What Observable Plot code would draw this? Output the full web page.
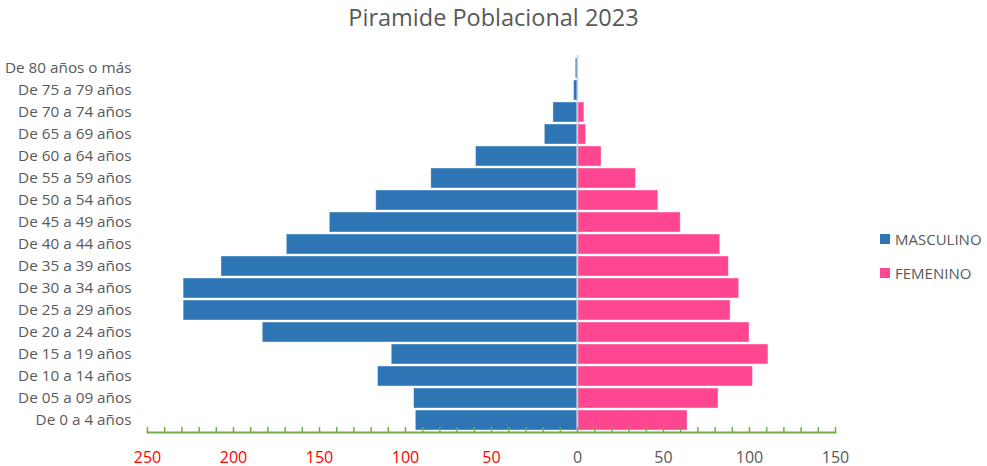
<!DOCTYPE html>
<html>
<head>
<meta charset="utf-8">
<script src="https://cdn.jsdelivr.net/npm/d3@7"></script>
<script src="https://cdn.jsdelivr.net/npm/@observablehq/plot@0.6"></script>
<style>
  html, body { margin: 0; padding: 0; background: #fff; }
  #wrap { position: relative; width: 987px; height: 466px; font-family: "Open Sans", sans-serif; color: #595959; }
  #title { height: 36px; line-height: 34px; text-align: center; font-size: 23.5px; color: #595959; }
  .leg { position: absolute; left: 880px; font-size: 15px; color: #595959; display: flex; align-items: center; }
  .leg span.sw { display: inline-block; width: 10px; height: 10px; margin-right: 5px; }
</style>
</head>
<body>
<div id="wrap">
  <div id="title">Piramide Poblacional 2023</div>
  <div id="chart"></div>
  <div class="leg" style="top:229px"><span class="sw" style="background:#2E75B6"></span>MASCULINO</div>
  <div class="leg" style="top:263px"><span class="sw" style="background:#FF4791"></span>FEMENINO</div>
</div>
<script>
const categorias = ["De 0 a 4 años","De 05 a 09 años","De 10 a 14 años","De 15 a 19 años","De 20 a 24 años","De 25 a 29 años","De 30 a 34 años","De 35 a 39 años","De 40 a 44 años","De 45 a 49 años","De 50 a 54 años","De 55 a 59 años","De 60 a 64 años","De 65 a 69 años","De 70 a 74 años","De 75 a 79 años","De 80 años o más"];
const masculino = [94, 95, 116, 108, 183, 229, 229, 207, 169, 144, 117, 85, 59, 19, 14, 2, 1];
const femenino  = [64, 82, 102, 111, 100, 89, 94, 88, 83, 60, 47, 34, 14, 5, 4, 0, 0];
const etiquetasX = [-250, -200, -150, -100, -50, 0, 50, 100, 150];
const marcasX = d3.range(-250, 151, 10);

const data = categorias.map((c, i) => ({cat: c, m: masculino[i], f: femenino[i]}));

const W = 987, H = 430, mt = 19, mb = 34;
const frameH = H - mt - mb;

const chart = Plot.plot({
  width: W, height: H,
  marginLeft: 147, marginRight: 152, marginTop: mt, marginBottom: mb,
  style: {fontFamily: "Open Sans, sans-serif", fontSize: "15px", color: "#595959", background: "white", overflow: "visible"},
  x: {domain: [-250, 150], axis: null},
  y: {domain: categorias.slice().reverse(), paddingInner: 0.1, paddingOuter: 0.05, label: null},
  marks: [
    Plot.barX(data, {x1: 0, x2: d => -d.m, y: "cat", fill: "#2E75B6", stroke: "#ffffff", strokeOpacity: 0.5, strokeWidth: 0.8}),
    Plot.barX(data, {x1: 0, x2: "f", y: "cat", fill: "#FF4791", stroke: "#ffffff", strokeOpacity: 0.5, strokeWidth: 0.8}),
    Plot.ruleX([0], {stroke: "#d0d0d0", strokeWidth: 1.5}),
    Plot.ruleX(marcasX, {x: d => d, stroke: "#70AD47", strokeWidth: 1.5, insetTop: frameH - 5}),
    Plot.frame({anchor: "bottom", stroke: "#70AD47", strokeWidth: 2}),
    Plot.text(etiquetasX, {x: d => d, text: d => String(Math.abs(d)), frameAnchor: "bottom", dy: 30, fill: d => d < 0 ? "#FF0000" : "#595959", fontSize: 16}),
    Plot.axisY({tickSize: 0, tickPadding: 16, fontSize: 15.3, fill: "#595959", label: null})
  ]
});
document.getElementById("chart").appendChild(chart);
</script>
</body>
</html>
